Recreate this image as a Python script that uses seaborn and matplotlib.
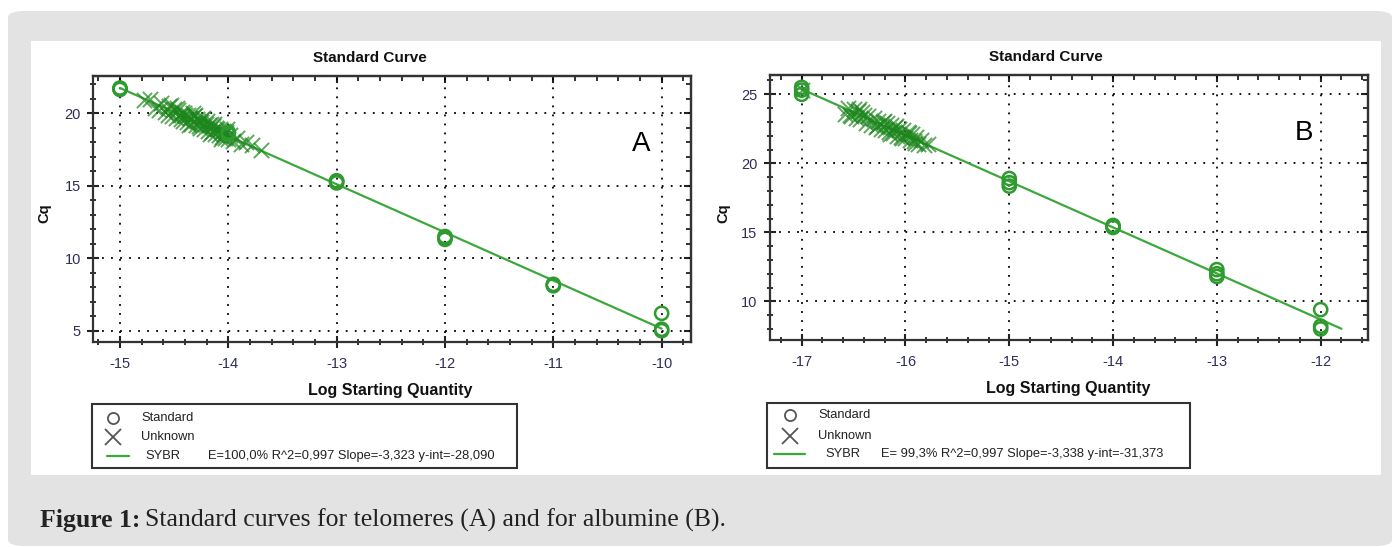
import matplotlib
matplotlib.use("Agg")
import matplotlib.pyplot as plt
from matplotlib.patches import FancyBboxPatch, Rectangle
from matplotlib.ticker import MultipleLocator
import numpy as np
import pandas as pd
import seaborn as sns

sns.set_theme(style="white")
plt.rcParams['font.family'] = ['Liberation Sans', 'DejaVu Sans']
plt.rcParams['axes.unicode_minus'] = False

# ---------------- data ----------------
# Panel A (telomeres)
std_x_A = [-15, -15, -15, -14, -14, -13, -13, -13, -12, -12, -12, -11, -11, -11, -10, -10, -10]
std_y_A = [21.7, 21.75, 21.65, 18.7, 18.55, 15.3, 15.2, 15.35, 11.5, 11.3, 11.4, 8.2, 8.1, 8.15, 6.2, 5.1, 5.0]
unk_x_A = [-14.78, -14.72, -14.68, -14.62, -14.58, -14.55, -14.52, -14.50, -14.48, -14.46,
           -14.45, -14.43, -14.42, -14.40, -14.38, -14.37, -14.35, -14.34, -14.32, -14.30,
           -14.29, -14.28, -14.26, -14.25, -14.24, -14.22, -14.21, -14.20, -14.19, -14.18,
           -14.16, -14.15, -14.14, -14.12, -14.11, -14.10, -14.09, -14.08, -14.06, -14.05,
           -14.04, -14.03, -14.02, -14.00, -13.98, -13.96, -13.92, -13.88, -13.84, -13.78,
           -13.70, -14.56, -14.47, -14.41, -14.36, -14.31, -14.27, -14.23, -14.17, -14.13,
           -14.07, -14.01, -14.64, -14.53, -14.44, -14.33]
unk_y_A = [20.9, 21.0, 20.4, 20.7, 20.1, 20.5, 19.8, 20.3, 19.7, 20.2,
           19.9, 20.1, 19.5, 19.9, 19.4, 19.9, 19.7, 19.3, 19.8, 19.2,
           19.6, 19.5, 19.0, 19.4, 19.6, 18.9, 19.3, 19.5, 18.8, 19.2,
           19.3, 18.7, 19.1, 18.6, 19.0, 18.9, 18.5, 18.9, 18.4, 18.8,
           18.6, 18.3, 18.7, 18.2, 18.5, 18.1, 18.3, 17.9, 18.0, 17.8,
           17.5, 19.9, 20.4, 20.0, 19.2, 19.9, 19.1, 19.7, 18.6, 19.3,
           18.2, 18.9, 20.2, 20.6, 19.6, 20.0]
fit_x_A = [-15.0, -10.0]
slope_A, icpt_A = -3.323, -28.090
legend_A = "E=100,0% R^2=0,997 Slope=-3,323 y-int=-28,090"

# Panel B (albumine)
std_x_B = [-17, -17, -17, -15, -15, -15, -14, -14, -14, -13, -13, -13, -12, -12, -12]
std_y_B = [25.5, 25.3, 25.0, 18.9, 18.6, 18.35, 15.5, 15.4, 15.35, 12.3, 12.0, 11.8, 9.4, 8.2, 8.0]
unk_x_B = [-16.58, -16.55, -16.52, -16.50, -16.48, -16.46, -16.44, -16.42, -16.40, -16.38,
           -16.36, -16.33, -16.30, -16.28, -16.26, -16.24, -16.22, -16.20, -16.18, -16.16,
           -16.14, -16.12, -16.10, -16.08, -16.06, -16.04, -16.02, -16.00, -15.98, -15.96,
           -15.94, -15.92, -15.90, -15.88, -15.85, -15.82, -15.78, -16.53, -16.45, -16.27,
           -16.21, -16.15, -16.09, -16.03, -15.97, -15.91, -17.0]
unk_y_B = [23.6, 24.0, 23.4, 23.9, 23.3, 23.8, 23.2, 23.7, 23.5, 22.9,
           23.4, 22.8, 23.3, 22.6, 23.1, 22.5, 23.0, 22.4, 22.9, 22.3,
           22.8, 22.2, 22.6, 22.0, 22.5, 21.9, 22.4, 21.8, 22.3, 21.7,
           22.1, 21.6, 21.9, 21.4, 21.7, 21.3, 21.4, 23.5, 23.9, 22.7,
           23.1, 22.1, 22.7, 21.8, 22.2, 21.5, 25.3]
fit_x_B = [-17.0, -11.8]
slope_B, icpt_B = -3.338, -31.373
legend_B = "E= 99,3% R^2=0,997 Slope=-3,338 y-int=-31,373"

x_ticks_A = [-15, -14, -13, -12, -11, -10]
y_ticks_A = [5, 10, 15, 20]
x_ticks_B = [-17, -16, -15, -14, -13, -12]
y_ticks_B = [10, 15, 20, 25]

caption_bold = "Figure 1:"
caption_text = "Standard curves for telomeres (A) and for albumine (B)."

# ---------------- figure ----------------
W, H = 1394, 547
fig = plt.figure(figsize=(W / 100, H / 100), dpi=100)
fig.patch.set_facecolor("white")


def fx(px):
    return px / W


def fy(py):
    return 1 - py / H


bg = FancyBboxPatch((fx(8), fy(546)), fx(1392 - 8), (546 - 11) / H,
                    boxstyle="round,pad=0,rounding_size=0.012",
                    transform=fig.transFigure, facecolor="#e3e3e3", edgecolor="none", zorder=0)
fig.patches.append(bg)
fig.patches.append(Rectangle((fx(31), fy(475)), fx(1381 - 31), (475 - 41) / H,
                             transform=fig.transFigure, facecolor="white", edgecolor="none", zorder=1))

GREEN = "#2f9a2f"
LINE_GREEN = "#3ca83c"
TICKLAB = "#2e2e58"


def make_panel(rect_px, std_x, std_y, unk_x, unk_y, fit_x, slope, icpt,
               xlim, ylim, xt, yt, letter, letter_pos):
    l, t, r, b = rect_px
    ax = fig.add_axes([fx(l), fy(b), fx(r - l), (b - t) / H])
    ax.set_facecolor("white")
    ax.set_zorder(3)
    fx_arr = np.array(fit_x)
    line_df = pd.DataFrame({"x": fx_arr, "y": slope * fx_arr + icpt})
    sns.lineplot(data=line_df, x="x", y="y", ax=ax, color=LINE_GREEN, lw=1.6, zorder=3)
    udf = pd.DataFrame({"x": unk_x, "y": unk_y})
    sns.scatterplot(data=udf, x="x", y="y", ax=ax, marker="x", s=120, color="#1c861c",
                    linewidth=1.4, alpha=0.7, zorder=4)
    sdf = pd.DataFrame({"x": std_x, "y": std_y})
    sns.scatterplot(data=sdf, x="x", y="y", ax=ax, marker="o", s=90, facecolor="none",
                    edgecolor=GREEN, linewidth=1.8, zorder=5)
    ax.set_xlim(*xlim)
    ax.set_ylim(*ylim)
    ax.set_xticks(xt)
    ax.set_yticks(yt)
    ax.xaxis.set_minor_locator(MultipleLocator(0.2))
    ax.yaxis.set_minor_locator(MultipleLocator(1))
    ax.grid(True, which="major", color="black", linestyle=(0, (1, 4)), linewidth=1.3)
    ax.set_xlabel("")
    ax.set_ylabel("")
    for s in ax.spines.values():
        s.set_color("#333333")
        s.set_linewidth(1.6)
        s.set_visible(True)
    ax.tick_params(axis="both", which="major", direction="inout", length=8, width=1.5,
                   color="#222222", labelsize=10.5, labelcolor=TICKLAB)
    ax.tick_params(axis="both", which="minor", direction="inout", length=5, width=1.3,
                   color="#222222")
    ax.tick_params(axis="x", which="both", top=False, bottom=True, pad=7)
    ax.tick_params(axis="y", which="both", left=True, right=False, pad=5)
    tx = ax.secondary_xaxis("top")
    tx.set_xticks(xt)
    tx.xaxis.set_minor_locator(MultipleLocator(0.2))
    tx.tick_params(which="major", direction="in", length=5, width=1.5, color="#222222", labeltop=False)
    tx.tick_params(which="minor", direction="in", length=3.5, width=1.3, color="#222222")
    tx.spines["top"].set_linewidth(1.6)
    tx.spines["top"].set_color("#333333")
    ry = ax.secondary_yaxis("right")
    ry.set_yticks(yt)
    ry.yaxis.set_minor_locator(MultipleLocator(1))
    ry.tick_params(which="major", direction="in", length=5, width=1.5, color="#222222", labelright=False)
    ry.tick_params(which="minor", direction="in", length=3.5, width=1.3, color="#222222")
    ry.spines["right"].set_linewidth(1.6)
    ry.spines["right"].set_color("#333333")
    ax.text(letter_pos[0], letter_pos[1], letter, transform=ax.transAxes,
            fontsize=20, color="black", ha="center", va="center")
    return ax


axA = make_panel((93.3, 75.7, 690.7, 341.7), std_x_A, std_y_A, unk_x_A, unk_y_A,
                 fit_x_A, slope_A, icpt_A, (-15.246, -9.732), (4.24, 22.6),
                 x_ticks_A, y_ticks_A, "A", ((641 - 93.3) / (690.7 - 93.3), (341.7 - 144) / 266))
axB = make_panel((770, 74.7, 1368, 340), std_x_B, std_y_B, unk_x_B, unk_y_B,
                 fit_x_B, slope_B, icpt_B, (-17.305, -11.544), (7.2, 26.42),
                 x_ticks_B, y_ticks_B, "B", ((1304 - 770) / 598, (340 - 133) / 265.3))

for cx, ty, cqx, cqy, lx, ly in [(370, 58, 44, 213, 390, 390), (1046, 57, 723, 213, 1068, 388)]:
    fig.text(fx(cx), fy(ty), "Standard Curve", ha="center", va="center",
             fontsize=11, fontweight="bold", color="#111111", zorder=5)
    fig.text(fx(cqx), fy(cqy), "Cq", ha="center", va="center", rotation=90,
             fontsize=10.5, fontweight="bold", color="#111111", zorder=5)
    fig.text(fx(lx), fy(ly), "Log Starting Quantity", ha="center", va="center",
             fontsize=11.5, fontweight="bold", color="#111111", zorder=5)


def legend_box(l, t, r, b, sym_x, txt_x, line_x0, line_x1, sybr_x, stat_x, rows, stat):
    lax = fig.add_axes([0, 0, 1, 1], zorder=6)
    lax.set_xlim(0, W)
    lax.set_ylim(H, 0)
    lax.axis("off")
    lax.patch.set_alpha(0)
    lax.add_patch(Rectangle((l, t), r - l, b - t, facecolor="white", edgecolor="#333333", lw=1.5))
    lax.plot([sym_x], [rows[0]], marker="o", ms=8, mfc="none", mec="#555555", mew=1.3)
    lax.plot([sym_x], [rows[1]], marker="x", ms=11, color="#555555", mew=1.3)
    lax.plot([line_x0, line_x1], [rows[2], rows[2]], color=LINE_GREEN, lw=1.6)
    kw = dict(fontsize=9.3, va="center", ha="left", color="#222222")
    lax.text(txt_x, rows[0], "Standard", **kw)
    lax.text(txt_x, rows[1], "Unknown", **kw)
    lax.text(sybr_x, rows[2], "SYBR", **kw)
    lax.text(stat_x, rows[2], stat, **kw)


legend_box(91.7, 404, 516.7, 468, 113, 141, 107, 129, 145, 208, (418, 437, 456), legend_A)
legend_box(767, 403, 1190, 468, 790, 818, 774, 805, 825, 881, (415, 436, 454), legend_B)

# caption, sized so it spans the same width as the reference (x 40 -> 730 px)
cap_fs = 14
cap_fam = ["Liberation Serif", "DejaVu Serif"]
t1 = fig.text(fx(40), fy(520), caption_bold, fontsize=cap_fs, fontweight="bold",
              family=cap_fam, va="center", ha="left", color="#222222", zorder=5)
t2 = fig.text(fx(137), fy(520), caption_text, fontsize=cap_fs,
              family=cap_fam, va="center", ha="left", color="#222222", zorder=5)
renderer = fig.canvas.get_renderer()
w1 = t1.get_window_extent(renderer).width
w2 = t2.get_window_extent(renderer).width
scale = (730 - 40) / (w1 + 5 + w2)
cap_fs = cap_fs * scale
t1.set_fontsize(cap_fs)
t2.set_fontsize(cap_fs)
w1 = t1.get_window_extent(renderer).width
t2.set_x(fx(40 + w1 + 5))

fig.savefig("out.png", dpi=100, facecolor="white")
